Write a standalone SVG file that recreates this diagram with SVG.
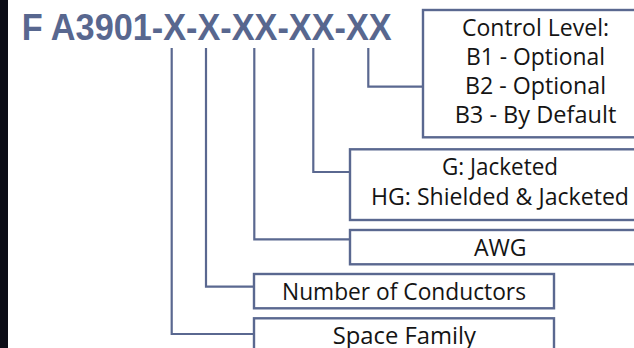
<svg xmlns="http://www.w3.org/2000/svg" width="634" height="348" viewBox="0 0 634 348">
<style>
.box{fill:#ffffff;stroke:#5a6890;stroke-width:2.4}
.con{fill:none;stroke:#5a6890;stroke-width:2.2}
.lbl{font-family:"Open Sans","Liberation Sans",sans-serif;font-size:23px;fill:#141414;text-anchor:middle}
.title{font-family:"Liberation Sans",Arial,sans-serif;font-weight:bold;font-size:36px;fill:#58678f}
</style>
<rect x="0" y="0" width="634" height="348" fill="#ffffff"/>
<rect x="0" y="0" width="8" height="348" fill="#0b0c16"/>
<g id="title">
<text class="title" x="21.7" y="40" textLength="370" lengthAdjust="spacingAndGlyphs">F A3901-X-X-XX-XX-XX</text>
</g>
<g id="connectors">
<polyline class="con" points="171.7,48 171.7,334 254,334"/>
<polyline class="con" points="206,48 206,286.7 254,286.7"/>
<polyline class="con" points="254.3,48 254.3,239.3 350,239.3"/>
<polyline class="con" points="313.3,48 313.3,172 350,172"/>
<polyline class="con" points="368.3,48 368.3,86.7 423,86.7"/>
</g>
<g id="control-level">
<rect class="box" x="423" y="10" width="226" height="127.3"/>
<text class="lbl" x="535.5" y="35.5" textLength="147" lengthAdjust="spacingAndGlyphs">Control Level:</text>
<text class="lbl" x="535.5" y="65" textLength="139" lengthAdjust="spacingAndGlyphs">B1 - Optional</text>
<text class="lbl" x="535.5" y="94.3" textLength="141" lengthAdjust="spacingAndGlyphs">B2 - Optional</text>
<text class="lbl" x="535.5" y="122.7" textLength="161.7" lengthAdjust="spacingAndGlyphs">B3 - By Default</text>
</g>
<g id="jacket">
<rect class="box" x="350" y="149.3" width="300" height="70.7"/>
<text class="lbl" x="500" y="175" textLength="116" lengthAdjust="spacingAndGlyphs">G: Jacketed</text>
<text class="lbl" x="500" y="205" textLength="258" lengthAdjust="spacingAndGlyphs">HG: Shielded &amp; Jacketed</text>
</g>
<g id="awg">
<rect class="box" x="350" y="230" width="300" height="34.3"/>
<text class="lbl" x="500.3" y="256" textLength="52.7" lengthAdjust="spacingAndGlyphs">AWG</text>
</g>
<g id="conductors">
<rect class="box" x="254" y="274" width="300" height="34.3"/>
<text class="lbl" x="404" y="300" textLength="244" lengthAdjust="spacingAndGlyphs">Number of Conductors</text>
</g>
<g id="space-family">
<rect class="box" x="254" y="318.3" width="300" height="36"/>
<text class="lbl" x="404.3" y="344" textLength="143.3" lengthAdjust="spacingAndGlyphs">Space Family</text>
</g>
</svg>
